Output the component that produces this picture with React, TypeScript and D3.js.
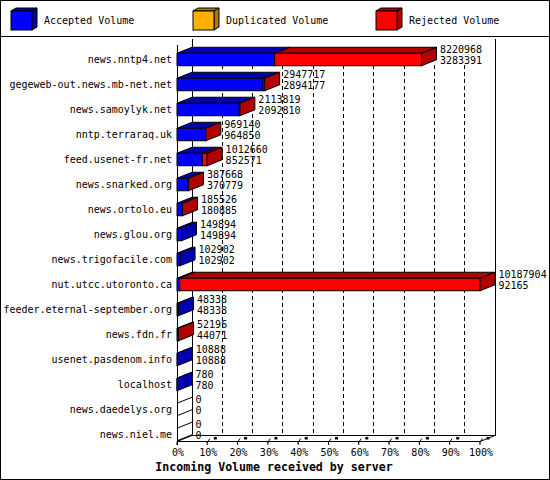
import * as d3 from "d3"

const HOSTS = [
  "news.nntp4.net",
  "gegeweb-out.news.mb-net.net",
  "news.samoylyk.net",
  "nntp.terraraq.uk",
  "feed.usenet-fr.net",
  "news.snarked.org",
  "news.ortolo.eu",
  "news.glou.org",
  "news.trigofacile.com",
  "nut.utcc.utoronto.ca",
  "feeder.eternal-september.org",
  "news.fdn.fr",
  "usenet.pasdenom.info",
  "localhost",
  "news.daedelys.org",
  "news.niel.me",
]

// total incoming volume (first label) and accepted volume (second label)
const TOTAL = [
  8220968, 2947717, 2113819, 969140, 1012660, 387668, 185526, 149894, 102902,
  10187904, 48338, 52196, 10888, 780, 0, 0,
]
const ACCEPTED = [
  3283391, 2894177, 2092810, 964850, 852571, 370779, 180885, 149894, 102902,
  92165, 48338, 44071, 10888, 780, 0, 0,
]
const DUPLICATED = [0, 0, 0, 0, 0, 0, 0, 0, 0, 0, 0, 0, 0, 0, 0, 0]

const PCT_TICKS = [0, 10, 20, 30, 40, 50, 60, 70, 80, 90, 100]

const SERIES = [
  { key: "accepted", label: "Accepted Volume", front: "#0000ff", dark: "#0000b0" },
  { key: "duplicated", label: "Duplicated Volume", front: "#ffb000", dark: "#b07800" },
  { key: "rejected", label: "Rejected Volume", front: "#ff0000", dark: "#b00000" },
]

const W = 550
const H = 480
const DX = 15
const DY = -6
const X0 = 177
const X1 = 480
const FLOOR = 441.5
const FONT = "'DejaVu Sans Mono', 'Liberation Mono', monospace"

export default function App() {
  const max = d3.max(TOTAL) ?? 1
  const x = d3.scaleLinear().domain([0, max]).range([X0, X1])
  const xp = d3.scaleLinear().domain([0, 100]).range([X0, X1])
  const y = d3
    .scaleBand<string>()
    .domain(HOSTS)
    .range([47, 447])
    .paddingInner(0.5)
    .paddingOuter(0.25)
  const bh = y.bandwidth()

  const rows = HOSTS.map((h, i) => {
    const acc = ACCEPTED[i]
    const dup = DUPLICATED[i]
    const rej = TOTAL[i] - acc - dup
    let cum = 0
    const segs = [acc, dup, rej]
      .map((v, s) => {
        const seg = { s, a: cum, b: cum + v }
        cum += v
        return seg
      })
      .filter((g) => g.b > g.a)
    return { h, i, segs, yt: y(h)!, total: TOTAL[i], acc }
  })

  const pt = (px: number, py: number) => `${px},${py}`

  return (
    <svg width={W} height={H} style={{ display: "block" }} fontFamily={FONT}>
      <style>{`body{margin:0}`}</style>
      <rect x={0} y={0} width={W} height={H} fill="#fff" />

      {/* legend */}
      {SERIES.map((s, i) => {
        const lx = [11, 193, 376][i]
        const fx0 = lx, fx1 = lx + 21, fy0 = 11, fy1 = 30
        const ox = 5, oy = -3
        return (
          <g key={s.key} stroke="#000" strokeWidth={1}>
            <polygon
              points={[pt(fx0, fy0), pt(fx0 + ox, fy0 + oy), pt(fx1 + ox, fy0 + oy), pt(fx1, fy0)].join(" ")}
              fill={s.dark}
            />
            <polygon
              points={[pt(fx1, fy0), pt(fx1 + ox, fy0 + oy), pt(fx1 + ox, fy1 + oy), pt(fx1, fy1)].join(" ")}
              fill={s.dark}
            />
            <rect x={fx0} y={fy0} width={fx1 - fx0} height={fy1 - fy0} fill={s.front} />
            <text x={lx + 33} y={20} dy="0.35em" fontSize={10} stroke="none" fill="#000">
              {s.label}
            </text>
          </g>
        )
      })}
      <line x1={0} x2={W} y1={36.5} y2={36.5} stroke="#000" />

      {/* walls and grid */}
      <g stroke="#000" strokeWidth={1} shapeRendering="crispEdges">
        {PCT_TICKS.slice(1, -1).map((t) => (
          <line key={t} x1={xp(t) + DX} x2={xp(t) + DX} y1={65} y2={FLOOR + DY} strokeDasharray="4,3" />
        ))}
        <line x1={X0 + DX} x2={X0 + DX} y1={38.5} y2={FLOOR + DY} />
        <line x1={X1 + DX} x2={X1 + DX} y1={38.5} y2={FLOOR + DY} />
        <line x1={X0} x2={X0} y1={45} y2={FLOOR + 3.5} />
        <line x1={X0 + DX} x2={X1 + DX} y1={FLOOR + DY} y2={FLOOR + DY} />
        <line x1={X0} x2={X1} y1={FLOOR} y2={FLOOR} />
      </g>
      <g stroke="#000" strokeWidth={1}>
        <line x1={X0} y1={FLOOR} x2={X0 + DX} y2={FLOOR + DY} />
        <line x1={X1} y1={FLOOR} x2={X1 + DX} y2={FLOOR + DY} />
        {PCT_TICKS.map((t) => (
          <g key={t}>
            <line x1={xp(t)} x2={xp(t)} y1={FLOOR} y2={FLOOR + 3.5} />
            {t > 0 && <line x1={xp(t) - 0.5} y1={FLOOR + 1.5} x2={xp(t) + 2.5} y2={FLOOR - 3} />}
            {t > 0 && <rect x={xp(t) + 6.5} y={FLOOR - 4.5} width={3} height={2.5} fill="#000" stroke="none" />}
          </g>
        ))}
      </g>

      {/* bars */}
      {rows.map((r) => {
        const yt = r.yt
        const yb = yt + bh
        if (r.segs.length === 0) {
          return (
            <g key={r.h} stroke="#000">
              <line x1={X0} y1={yt} x2={X0 + DX} y2={yt + DY} />
              <line x1={X0} y1={yb} x2={X0 + DX} y2={yb + DY} />
            </g>
          )
        }
        const last = r.segs[r.segs.length - 1]
        return (
          <g key={r.h} stroke="#000" strokeWidth={1} strokeLinejoin="miter">
            {r.segs.map((g) => {
              const a = x(g.a), b = x(g.b)
              const c = SERIES[g.s]
              return (
                <g key={g.s}>
                  <polygon
                    points={[pt(a, yt), pt(a + DX, yt + DY), pt(b + DX, yt + DY), pt(b, yt)].join(" ")}
                    fill={c.dark}
                  />
                  <rect x={a} y={yt} width={b - a} height={bh} fill={c.front} />
                </g>
              )
            })}
            <polygon
              points={[
                pt(x(last.b), yt),
                pt(x(last.b) + DX, yt + DY),
                pt(x(last.b) + DX, yb + DY),
                pt(x(last.b), yb),
              ].join(" ")}
              fill={SERIES[last.s].dark}
            />
          </g>
        )
      })}

      {/* labels */}
      <g fontSize={10} fill="#000">
        {rows.map((r) => (
          <g key={r.h}>
            <text x={172} y={r.yt + bh / 2} dy="0.35em" textAnchor="end">
              {r.h}
            </text>
            <text x={x(r.total) + DX + 3.5} y={r.yt - 3.5} dy="0.35em">
              {r.total}
            </text>
            <text x={x(r.total) + DX + 3.5} y={r.yt + 7} dy="0.35em">
              {r.acc}
            </text>
          </g>
        ))}
        {PCT_TICKS.map((t) => (
          <text key={t} x={xp(t) + 1} y={452} dy="0.35em" textAnchor="middle">
            {`${t}%`}
          </text>
        ))}
      </g>
      <text x={274} y={467} dy="0.35em" textAnchor="middle" fontSize={11.6} fontWeight="bold">
        Incoming Volume received by server
      </text>

      <rect x={0.5} y={0.5} width={W - 1} height={H - 1} fill="none" stroke="#000" />
    </svg>
  )
}
